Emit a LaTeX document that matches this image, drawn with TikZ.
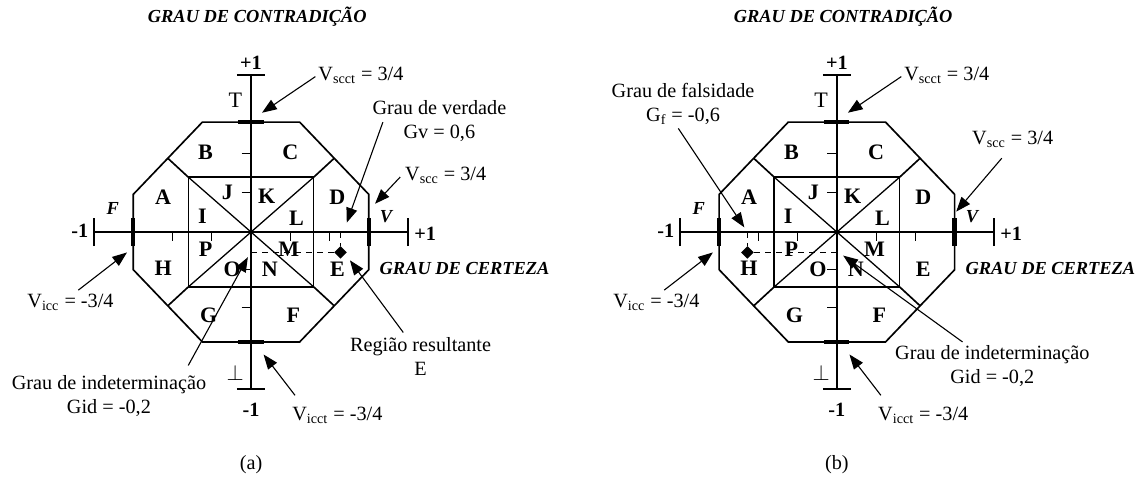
\documentclass[tikz,border=0pt]{standalone}
\usepackage{fontspec}
\setmainfont{Liberation Serif}
\usetikzlibrary{arrows.meta,shapes.geometric}

% octogono, eixos e rotulos comuns aos dois quadros
\newcommand{\octpanel}{%
  \coordinate (xl) at (-1,0);
  \coordinate (xr) at (1,0);
  \coordinate (yt) at (0,1);
  \coordinate (yb) at (0,-1);
  \draw[axis] (xl) -- (xr);
  \draw[axis] (yb) -- (yt);
  \draw[endtick] (-1,-0.09) -- (-1,0.09);
  \draw[endtick] (1,-0.09) -- (1,0.09);
  \draw[endtick] (-0.09,1) -- (0.09,1);
  \draw[endtick] (-0.09,-1) -- (0.09,-1);
  % octogono
  \coordinate (o1) at (-0.31,0.70);
  \coordinate (o2) at (0.31,0.70);
  \coordinate (o3) at (0.75,0.24);
  \coordinate (o4) at (0.75,-0.24);
  \coordinate (o5) at (0.31,-0.70);
  \coordinate (o6) at (-0.31,-0.70);
  \coordinate (o7) at (-0.75,-0.24);
  \coordinate (o8) at (-0.75,0.24);
  \draw[octline] (o1) -- (o2) -- (o3) -- (o4) -- (o5) -- (o6) -- (o7) -- (o8) -- cycle;
  % quadrado interno
  \coordinate (s1) at (-0.40,0.35);
  \coordinate (s2) at (0.40,0.35);
  \coordinate (s3) at (0.40,-0.35);
  \coordinate (s4) at (-0.40,-0.35);
  \draw[innerline] (s1) -- (s2) -- (s3) -- (s4) -- cycle;
  \draw[innerline] (s1) -- (s3);
  \draw[innerline] (s2) -- (s4);
  \draw[octline] (-0.53,0.47) -- (s1);
  \draw[octline] (0.53,0.47) -- (s2);
  \draw[octline] (0.53,-0.47) -- (s3);
  \draw[octline] (-0.53,-0.47) -- (s4);
  % marcas 3/4
  \draw[thickmark] (-0.75,-0.09) -- (-0.75,0.09);
  \draw[thickmark] (0.75,-0.09) -- (0.75,0.09);
  \draw[thickmark] (-0.08,0.70) -- (0.08,0.70);
  \draw[thickmark] (-0.08,-0.70) -- (0.08,-0.70);
  % divisoes pequenas
  \draw[smalltick] (-0.06,0.50) -- (0,0.50);
  \draw[smalltick] (-0.06,0.25) -- (0,0.25);
  \draw[smalltick] (-0.06,-0.24) -- (0,-0.24);
  \draw[smalltick] (-0.06,-0.48) -- (0,-0.48);
  \draw[smalltick] (-0.50,0) -- (-0.50,-0.06);
  \draw[smalltick] (-0.25,0) -- (-0.25,-0.06);
  \draw[smalltick] (0.25,0) -- (0.25,-0.06);
  \draw[smalltick] (0.50,0) -- (0.50,-0.06);
  % regioes
  \node[region] (rA) at (-0.56,0.22) {A};
  \node[region] (rB) at (-0.29,0.51) {B};
  \node[region] (rC) at (0.25,0.51) {C};
  \node[region] (rD) at (0.55,0.22) {D};
  \node[region] (rE) at (0.55,-0.24) {E};
  \node[region] (rF) at (0.27,-0.53) {F};
  \node[region] (rG) at (-0.27,-0.53) {G};
  \node[region] (rH) at (-0.56,-0.23) {H};
  \node[region] (rI) at (-0.31,0.10) {I};
  \node[region] (rJ) at (-0.15,0.25) {J};
  \node[region] (rK) at (0.10,0.23) {K};
  \node[region] (rL) at (0.29,0.09) {L};
  \node[region] (rM) at (0.24,-0.11) {M};
  \node[region] (rN) at (0.12,-0.24) {N};
  \node[region] (rO) at (-0.12,-0.24) {O};
  \node[region] (rP) at (-0.29,-0.11) {P};
  % rotulos dos eixos
  \node[heading] (contr) at (0.04,1.37) {GRAU DE CONTRADIÇÃO};
  \node[heading] (cert) at (1.36,-0.23) {GRAU DE CERTEZA};
  \node[axnum] (ptop) at (0,1.08) {+1};
  \node[axnum] (pbot) at (0,-1.13) {-1};
  \node[axnum] (pleft) at (-1.09,0.01) {-1};
  \node[axnum] (pright) at (1.11,-0.01) {+1};
  \node[big] (top) at (-0.10,0.84) {T};
  \node[big] (bot) at (-0.10,-0.90) {$\perp$};
  \node[letter] (fal) at (-0.88,0.15) {F};
  \node[letter] (ver) at (0.86,0.10) {V};
  % valores de controle
  \node[note] (scct) at (0.70,1.00) {V\textsubscript{scct} = 3/4};
  \coordinate (scct-t) at (0.41,0.99);
  \coordinate (scct-h) at (0.07,0.76);
  \draw[pointer] (scct-t) -- (scct-h);
  \node[note] (icct) at (0.55,-1.17) {V\textsubscript{icct} = -3/4};
  \coordinate (icct-t) at (0.28,-1.04);
  \coordinate (icct-h) at (0.08,-0.78);
  \draw[pointer] (icct-t) -- (icct-h);
  \node[note] (icc) at (-1.15,-0.45) {V\textsubscript{icc} = -3/4};
  \coordinate (icc-t) at (-1.10,-0.37);
  \coordinate (icc-h) at (-0.79,-0.13);
  \draw[pointer] (icc-t) -- (icc-h);
}

\begin{document}
\begin{tikzpicture}[x=3cm, y=3cm,
    axis/.style={line width=1.2pt},
    endtick/.style={line width=1.4pt},
    thickmark/.style={line width=2.4pt},
    octline/.style={line width=0.9pt},
    innerline/.style={line width=0.7pt},
    smalltick/.style={line width=0.7pt},
    guide/.style={dashed, line width=0.6pt},
    pointer/.style={line width=0.6pt, -{Triangle[length=8pt, width=6pt]}},
    region/.style={font=\bfseries\fontsize{12}{14}\selectfont, inner sep=0pt},
    axnum/.style={font=\bfseries\fontsize{11}{13}\selectfont, inner sep=0pt},
    letter/.style={font=\bfseries\itshape\fontsize{10}{12}\selectfont, inner sep=0pt},
    big/.style={font=\fontsize{12}{14}\selectfont, inner sep=0pt},
    note/.style={font=\fontsize{11}{13}\selectfont, inner sep=0pt, align=center},
    heading/.style={font=\bfseries\itshape\fontsize{10}{12}\selectfont, inner sep=0pt},
    dot/.style={diamond, fill=black, inner sep=0pt, minimum size=7pt}]
  \useasboundingbox (-1.599,-1.605) rectangle (5.669,1.478);

  % (a)
  \begin{scope}[name prefix=a-]
    \octpanel
    \node[dot] (pt) at (0.57,-0.13) {};
    \coordinate (ptx) at (0.57,0);
    \coordinate (pty) at (0,-0.13);
    \draw[guide] (pty) -- (pt);
    \draw[guide] (ptx) -- (pt);
    \node[note] (gv) at (1.20,0.705) {Grau de verdade\\Gv = 0,6};
    \coordinate (gv-t) at (0.84,0.70);
    \coordinate (gv-h) at (0.61,0.06);
    \draw[pointer] (gv-t) -- (gv-h);
    \node[note] (scc) at (1.24,0.36) {V\textsubscript{scc} = 3/4};
    \coordinate (scc-t) at (0.95,0.35);
    \coordinate (scc-h) at (0.79,0.18);
    \draw[pointer] (scc-t) -- (scc-h);
    \node[note] (res) at (1.08,-0.795) {Região resultante\\E};
    \coordinate (res-t) at (0.97,-0.64);
    \coordinate (res-h) at (0.63,-0.18);
    \draw[pointer] (res-t) -- (res-h);
    \node[note] (gid) at (-0.905,-1.045) {Grau de indeterminação\\Gid = -0,2};
    \coordinate (gid-t) at (-0.40,-0.85);
    \coordinate (gid-h) at (-0.02,-0.16);
    \draw[pointer] (gid-t) -- (gid-h);
    \node[note] (cap) at (0,-1.48) {(a)};
  \end{scope}

  % (b)
  \begin{scope}[shift={(3.732,0)}, name prefix=b-]
    \octpanel
    \node[dot] (pt) at (-0.57,-0.13) {};
    \coordinate (ptx) at (-0.57,0);
    \coordinate (pty) at (0,-0.13);
    \draw[guide] (pt) -- (pty);
    \draw[guide] (ptx) -- (pt);
    \node[note] (gf) at (-0.98,0.815) {Grau de falsidade\\G\textsubscript{f} = -0,6};
    \coordinate (gf-t) at (-1.01,0.66);
    \coordinate (gf-h) at (-0.59,0.03);
    \draw[pointer] (gf-t) -- (gf-h);
    \node[note] (scc) at (1.12,0.59) {V\textsubscript{scc} = 3/4};
    \coordinate (scc-t) at (1.05,0.47);
    \coordinate (scc-h) at (0.76,0.13);
    \draw[pointer] (scc-t) -- (scc-h);
    \node[note] (gid) at (0.99,-0.855) {Grau de indeterminação\\Gid = -0,2};
    \coordinate (gid-t) at (0.80,-0.70);
    \coordinate (gid-h) at (0.04,-0.15);
    \draw[pointer] (gid-t) -- (gid-h);
    \node[note] (cap) at (0,-1.48) {(b)};
  \end{scope}
\end{tikzpicture}
\end{document}
